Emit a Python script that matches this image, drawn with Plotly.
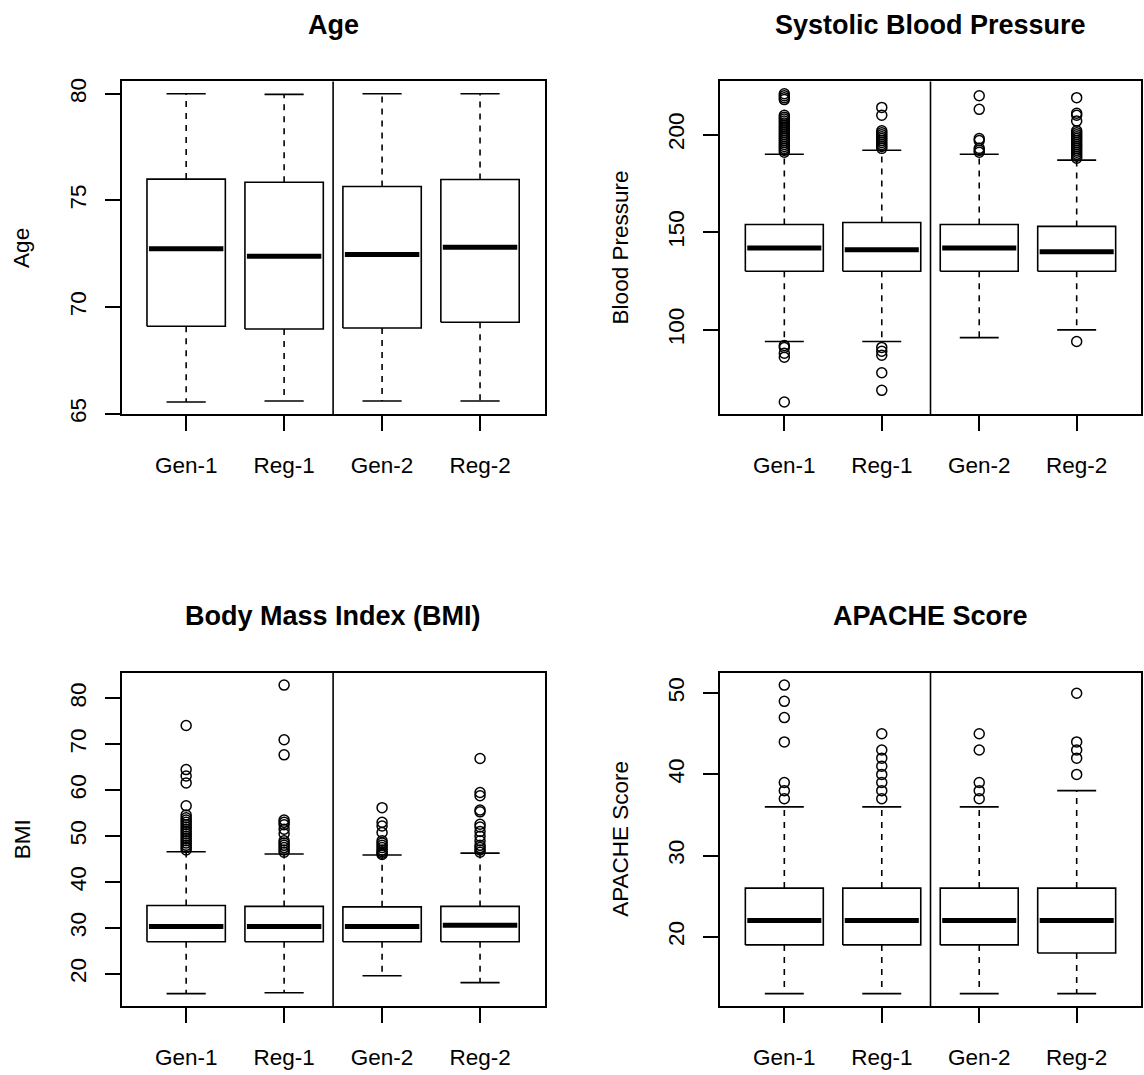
import plotly.graph_objects as go

# ---------------- data ----------------
groups = ["Gen-1", "Reg-1", "Gen-2", "Reg-2"]

# Age
age_lower = [65.55, 65.6, 65.6, 65.6]
age_q1 = [69.1, 68.97, 69.02, 69.29]
age_med = [72.73, 72.38, 72.47, 72.81]
age_q3 = [76.0, 75.85, 75.65, 75.98]
age_upper = [80.0, 79.97, 80.0, 80.0]
age_out = [[], [], [], []]

# Systolic blood pressure
sbp_lower = [94, 94, 96, 100]
sbp_q1 = [130, 130, 130, 130]
sbp_med = [142, 141, 142, 140]
sbp_q3 = [154, 155, 154, 153]
sbp_upper = [190, 192, 190, 187]
sbp_out = [
    [63, 86, 88, 91, 92, 191, 192, 193, 194, 195, 196, 197, 198, 199, 200, 201,
     202, 203, 204, 205, 206, 207, 208, 209, 210, 218, 219, 220, 221],
    [69, 78, 87, 89, 91, 193, 194, 195, 196, 197, 198, 199, 200, 201, 202,
     210, 214],
    [191, 192, 193, 197, 198, 213, 220],
    [94, 188, 189, 190, 191, 192, 193, 194, 195, 196, 197, 198, 199, 200, 201,
     202, 207, 210, 211, 219],
]

# BMI
bmi_lower = [15.7, 15.9, 19.6, 18.1]
bmi_q1 = [27.0, 27.0, 27.0, 27.0]
bmi_med = [30.3, 30.3, 30.3, 30.6]
bmi_q3 = [34.9, 34.7, 34.6, 34.7]
bmi_upper = [46.6, 46.1, 45.9, 46.3]
bmi_out = [
    [47, 47.5, 48, 48.5, 49, 49.5, 50, 50.5, 51, 51.5, 52, 52.5, 53, 53.5, 54,
     54.6, 56.6, 61.6, 63.1, 64.5, 74.1],
    [46.5, 47, 47.5, 48, 48.5, 49, 50.5, 51.5, 52.5, 53, 53.5, 67.7, 71.0, 82.9],
    [46, 46.3, 46.6, 47, 47.5, 48, 48.5, 49, 50.8, 52.2, 53, 56.2],
    [46.5, 47, 47.5, 48, 49, 50, 51, 52, 52.6, 55.3, 55.7, 58.8, 59.5, 66.9],
]

# APACHE score
apache_lower = [13, 13, 13, 13]
apache_q1 = [19, 19, 19, 18]
apache_med = [22, 22, 22, 22]
apache_q3 = [26, 26, 26, 26]
apache_upper = [36, 36, 36, 38]
apache_out = [
    [37, 38, 39, 44, 47, 49, 51],
    [37, 38, 39, 40, 41, 42, 43, 45],
    [37, 38, 39, 43, 45],
    [40, 42, 43, 44, 50],
]

titles = ["Age", "Systolic Blood Pressure", "Body Mass Index (BMI)", "APACHE Score"]
ylabels = ["Age", "Blood Pressure", "BMI", "APACHE Score"]
yticks = [[65, 70, 75, 80], [100, 150, 200], [20, 30, 40, 50, 60, 70, 80], [20, 30, 40, 50]]

panels = [
    (age_lower, age_q1, age_med, age_q3, age_upper, age_out),
    (sbp_lower, sbp_q1, sbp_med, sbp_q3, sbp_upper, sbp_out),
    (bmi_lower, bmi_q1, bmi_med, bmi_q3, bmi_upper, bmi_out),
    (apache_lower, apache_q1, apache_med, apache_q3, apache_upper, apache_out),
]

# ---------------- layout geometry (pixels) ----------------
W, H = 1144, 1075
col_px = [(121.5, 544.7), (720.0, 1141.0)]
row_px = [(79.3, 416.0), (677.3, 1014.3)]

FONT = "Liberation Sans, Arial, Helvetica, sans-serif"
BOXW = 0.8
STAPLE = 0.4
LW = 1.6

fig = go.Figure()
annotations = []
shapes = []
n = len(groups)
xs = list(range(1, n + 1))
xlo, xhi = 0.5, n + 0.5
xr = [xlo - 0.04 * (xhi - xlo), xhi + 0.04 * (xhi - xlo)]
split = n / 2 + 0.5

for k, (lo, q1, med, q3, up, out) in enumerate(panels):
    r, c = divmod(k, 2)
    xa = "x" if k == 0 else f"x{k + 1}"
    ya = "y" if k == 0 else f"y{k + 1}"
    xkey = "xaxis" if k == 0 else f"xaxis{k + 1}"
    ykey = "yaxis" if k == 0 else f"yaxis{k + 1}"

    # whiskers (dashed)
    wx, wy = [], []
    for i, x in enumerate(xs):
        wx += [x, x, None, x, x, None]
        wy += [q3[i], up[i], None, q1[i], lo[i], None]
    fig.add_trace(go.Scatter(x=wx, y=wy, mode="lines", xaxis=xa, yaxis=ya,
                             line=dict(color="black", width=LW, dash="6px,6px"),
                             hoverinfo="skip", showlegend=False))
    # staples
    sx, sy = [], []
    for i, x in enumerate(xs):
        sx += [x - STAPLE / 2, x + STAPLE / 2, None, x - STAPLE / 2, x + STAPLE / 2, None]
        sy += [up[i], up[i], None, lo[i], lo[i], None]
    fig.add_trace(go.Scatter(x=sx, y=sy, mode="lines", xaxis=xa, yaxis=ya,
                             line=dict(color="black", width=LW),
                             hoverinfo="skip", showlegend=False))
    # boxes
    bx, by = [], []
    for i, x in enumerate(xs):
        bx += [x - BOXW / 2, x + BOXW / 2, x + BOXW / 2, x - BOXW / 2, x - BOXW / 2, None]
        by += [q1[i], q1[i], q3[i], q3[i], q1[i], None]
    fig.add_trace(go.Scatter(x=bx, y=by, mode="lines", xaxis=xa, yaxis=ya,
                             line=dict(color="black", width=LW),
                             hoverinfo="skip", showlegend=False))
    # medians
    mx, my = [], []
    for i, x in enumerate(xs):
        mx += [x - BOXW / 2 + 0.02, x + BOXW / 2 - 0.02, None]
        my += [med[i], med[i], None]
    fig.add_trace(go.Scatter(x=mx, y=my, mode="lines", xaxis=xa, yaxis=ya,
                             line=dict(color="black", width=5),
                             hoverinfo="skip", showlegend=False))
    # outliers
    ox, oy = [], []
    for i, x in enumerate(xs):
        ox += [x] * len(out[i])
        oy += list(out[i])
    fig.add_trace(go.Scatter(x=ox, y=oy, mode="markers", xaxis=xa, yaxis=ya,
                             marker=dict(symbol="circle-open", size=10,
                                         color="black", line=dict(width=1.5)),
                             hoverinfo="skip", showlegend=False))

    allv = list(lo) + list(up) + [v for o in out for v in o]
    vmin, vmax = min(allv), max(allv)
    yr = [vmin - 0.04 * (vmax - vmin), vmax + 0.04 * (vmax - vmin)]

    x0p, x1p = col_px[c]
    y0p, y1p = row_px[r]
    common = dict(showline=True, mirror=True, linecolor="black", linewidth=LW,
                  ticks="outside", ticklen=15, tickwidth=LW, tickcolor="black",
                  showgrid=False, zeroline=False,
                  tickfont=dict(family=FONT, size=22.5, color="black"))
    fig.update_layout({
        xkey: dict(domain=[x0p / W, x1p / W], anchor=ya, range=xr,
                   tickmode="array", tickvals=xs, ticktext=groups,
                   ticklabelstandoff=15, **common),
        ykey: dict(domain=[1 - y1p / H, 1 - y0p / H], anchor=xa, range=yr,
                   tickmode="array", tickvals=yticks[k], tickangle=-90,
                   ticklabelstandoff=10, **common),
    })

    shapes.append(dict(type="line", xref=xa, yref=f"{ya} domain",
                       x0=split, x1=split, y0=0, y1=1,
                       line=dict(color="black", width=LW)))

    cx = (x0p + x1p) / 2
    annotations.append(dict(text=f"<b>{titles[k]}</b>", xref="paper", yref="paper",
                            x=cx / W, y=1 - (y0p - 57) / H,
                            xanchor="center", yanchor="middle", showarrow=False,
                            font=dict(family=FONT, size=27, color="black")))
    annotations.append(dict(text=ylabels[k], xref="paper", yref="paper",
                            x=(x0p - 99.5) / W, y=1 - ((y0p + y1p) / 2) / H,
                            xanchor="center", yanchor="middle", textangle=-90,
                            showarrow=False,
                            font=dict(family=FONT, size=22.5, color="black")))

fig.update_layout(width=W, height=H, margin=dict(l=0, r=0, t=0, b=0),
                  paper_bgcolor="white", plot_bgcolor="white",
                  annotations=annotations, shapes=shapes, showlegend=False)

fig.write_html("out.html")
